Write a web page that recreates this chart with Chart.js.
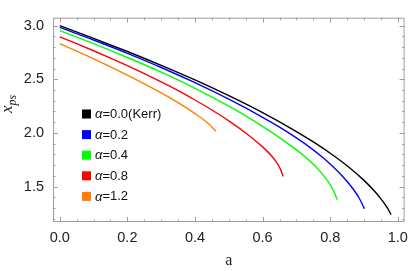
<!DOCTYPE html>
<html>
<head>
<meta charset="utf-8">
<script src="https://cdn.jsdelivr.net/npm/chart.js@4.4.1/dist/chart.umd.min.js"></script>
<style>
  html, body { margin: 0; padding: 0; background: #fff; }
  #wrap { position: relative; width: 415px; height: 271px; }
</style>
</head>
<body>
<div id="wrap"><canvas id="psChart" width="415" height="271"></canvas></div>
<script>
// ---- data ----
const spinKerr = [0, 0.1, 0.2, 0.3, 0.4, 0.5, 0.6, 0.7, 0.75, 0.8, 0.85, 0.9, 0.93, 0.95, 0.96, 0.97, 0.98];
const xpsKerr  = [3.0, 2.882, 2.759, 2.630, 2.494, 2.347, 2.189, 2.013, 1.916, 1.811, 1.694, 1.558, 1.461, 1.386, 1.344, 1.296, 1.239];

const spin02 = [0, 0.1, 0.2, 0.3, 0.4, 0.5, 0.6, 0.65, 0.7, 0.74, 0.78, 0.82, 0.85, 0.87, 0.885, 0.895, 0.901];
const xps02  = [2.983, 2.866, 2.742, 2.61, 2.468, 2.314, 2.146, 2.054, 1.954, 1.866, 1.766, 1.65, 1.548, 1.468, 1.396, 1.336, 1.294];

const spin04 = [0, 0.1, 0.2, 0.3, 0.4, 0.5, 0.55, 0.6, 0.65, 0.7, 0.74, 0.77, 0.79, 0.8, 0.81, 0.821];
const xps04  = [2.954, 2.832, 2.703, 2.566, 2.416, 2.25, 2.159, 2.062, 1.957, 1.842, 1.738, 1.642, 1.562, 1.516, 1.46, 1.377];

const spin08 = [0, 0.05, 0.1, 0.15, 0.2, 0.25, 0.3, 0.35, 0.4, 0.45, 0.5, 0.55, 0.6, 0.63, 0.641, 0.652, 0.661];
const xps08  = [2.896, 2.832, 2.766, 2.698, 2.627, 2.553, 2.475, 2.394, 2.307, 2.214, 2.113, 2.0, 1.870, 1.774, 1.727, 1.667, 1.595];

const spin12 = [0, 0.1, 0.2, 0.3, 0.35, 0.4, 0.44, 0.462];
const xps12  = [2.833, 2.691, 2.539, 2.373, 2.282, 2.18, 2.086, 2.015];

const alphaLabels = ["0.0(Kerr)", "0.2", "0.4", "0.8", "1.2"];
const lineColors  = ["#000000", "#0000ff", "#00ff00", "#ff0000", "#ff8000"];

const xTicks = [0, 0.2, 0.4, 0.6, 0.8, 1.0];
const yTicks = [1.5, 2.0, 2.5, 3.0];

const xMinor = 0.05;
const yMinor = 0.1;

// ======================================================
// helpers
// ======================================================

function toPoints(xs, ys) {
    return xs.map((v, i) => ({ x: v, y: ys[i] }));
}

const seriesX = [spinKerr, spin02, spin04, spin08, spin12];
const seriesY = [xpsKerr, xps02, xps04, xps08, xps12];

const datasets = seriesX.map((xs, i) => ({
    label: "α=" + alphaLabels[i],
    data: toPoints(xs, seriesY[i]),
    borderColor: lineColors[i],
    backgroundColor: lineColors[i],
    borderWidth: 1.4,
    pointRadius: 0,
    showLine: true,
    fill: false,
    cubicInterpolationMode: "monotone"
}));

// frame, inward ticks, axis titles and legend
const framePlugin = {

    id: "frame",

    afterDraw(chart) {

        const ctx = chart.ctx;
        const area = chart.chartArea;
        const xs = chart.scales.x;
        const ys = chart.scales.y;

        ctx.save();

        ctx.strokeStyle = "#a0a0a0";
        ctx.lineWidth = 1;

        ctx.strokeRect(area.left + 0.5, area.top + 0.5, area.right - area.left - 1, area.bottom - area.top - 1);

        ctx.beginPath();

        // x ticks, bottom and top
        for (let k = 0; k <= 20; k++) {
            let v = k * xMinor;
            let px = Math.round(xs.getPixelForValue(v)) + 0.5;
            let len = (k % 4 === 0) ? 5 : 2.5;
            ctx.moveTo(px, area.bottom);
            ctx.lineTo(px, area.bottom - len);
            ctx.moveTo(px, area.top);
            ctx.lineTo(px, area.top + len);
        }

        // y ticks, left and right
        for (let k = 12; k <= 30; k++) {
            let v = k * yMinor;
            let py = Math.round(ys.getPixelForValue(v)) + 0.5;
            let len = (k % 5 === 0) ? 5 : 2.5;
            ctx.moveTo(area.left, py);
            ctx.lineTo(area.left + len, py);
            ctx.moveTo(area.right, py);
            ctx.lineTo(area.right - len, py);
        }

        ctx.stroke();

        // axis titles
        ctx.fillStyle = "#222";
        ctx.textBaseline = "alphabetic";

        ctx.font = "16px 'Liberation Serif'";
        ctx.textAlign = "center";
        ctx.fillText("a", (area.left + area.right) / 2, 265);

        ctx.save();
        ctx.translate(12, 113);
        ctx.rotate(-Math.PI / 2);
        ctx.textAlign = "left";
        ctx.font = "italic 17px 'Liberation Serif'";
        ctx.fillText("x", 0, 0);
        let w = ctx.measureText("x").width;
        ctx.font = "italic 12px 'Liberation Serif'";
        ctx.fillText("ps", w, 4);
        ctx.restore();

        // legend
        let lx = 82;
        let ly = 114;
        chart.data.datasets.forEach((ds, i) => {
            let cy = ly + i * 20.6;
            ctx.fillStyle = ds.borderColor;
            ctx.fillRect(lx, cy - 4.5, 9, 9);
            ctx.fillStyle = "#111";
            ctx.textAlign = "left";
            ctx.textBaseline = "middle";
            ctx.font = "italic 13px 'Liberation Sans'";
            ctx.fillText("α", lx + 13, cy + 0.5);
            let aw = ctx.measureText("α").width;
            ctx.font = "13px 'Liberation Sans'";
            ctx.fillText("=" + alphaLabels[i], lx + 13 + aw, cy + 0.5);
        });

        ctx.restore();

    }

};

new Chart(document.getElementById("psChart"), {

    type: "scatter",

    data: { datasets: datasets },

    options: {

        responsive: false,
        animation: false,

        layout: { padding: { top: 3, right: 5, left: 0, bottom: 0 } },

        plugins: {
            legend: { display: false },
            tooltip: { enabled: false }
        },

        scales: {

            x: {
                type: "linear",
                min: -0.02,
                max: 1.02,
                afterBuildTicks: s => { s.ticks = xTicks.map(v => ({ value: v })); },
                afterFit: s => { s.height = 49; },
                grid: { display: false, drawTicks: false },
                border: { display: false },
                ticks: {
                    padding: 7,
                    color: "#222",
                    font: { family: "'Liberation Sans'", size: 14.5 },
                    callback: v => v.toFixed(1)
                }
            },

            y: {
                type: "linear",
                min: 1.17,
                max: 3.074,
                afterBuildTicks: s => { s.ticks = yTicks.map(v => ({ value: v })); },
                afterFit: s => { s.width = 53; },
                grid: { display: false, drawTicks: false },
                border: { display: false },
                ticks: {
                    padding: 9,
                    color: "#222",
                    font: { family: "'Liberation Sans'", size: 14.5 },
                    callback: v => v.toFixed(1)
                }
            }

        }

    },

    plugins: [framePlugin]

});
</script>
</body>
</html>
